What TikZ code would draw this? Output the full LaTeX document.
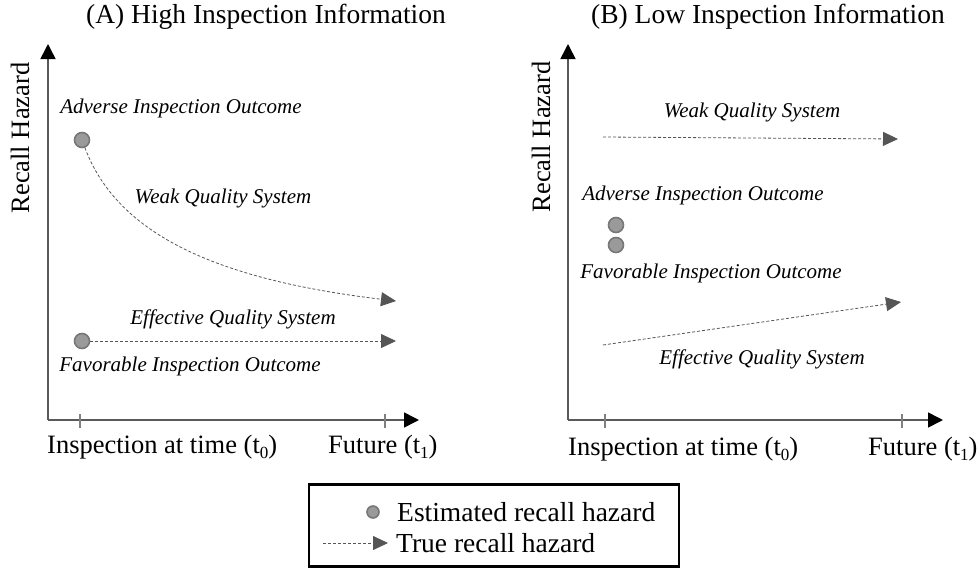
\documentclass[tikz,border=0pt]{standalone}
\usepackage{fontspec}
\setmainfont{Liberation Serif}
\usetikzlibrary{arrows.meta}

\definecolor{axisgray}{HTML}{5A5A5A}
\definecolor{tickgray}{HTML}{808080}
\definecolor{arrowgray}{HTML}{555555}
\definecolor{dotfill}{HTML}{9A9A9A}
\definecolor{dotedge}{HTML}{777777}

% lowered subscript for the time labels
\newcommand{\timesub}[1]{\raisebox{-0.45ex}{\fontsize{17}{17}\selectfont #1}}

\tikzset{
  axisline/.style={draw=axisgray, line width=1.6pt,
    -{Triangle[length=15pt,width=15pt,color=black]}},
  tickmark/.style={draw=tickgray, line width=2pt},
  trueh/.style={draw=arrowgray, line width=0.8pt, dash pattern=on 3pt off 2pt,
    -{Triangle[length=15pt,width=14pt,color=arrowgray]}},
  dot/.style={circle, fill=dotfill, draw=dotedge, line width=1.6pt,
    minimum size=15pt, inner sep=0pt},
  legdot/.style={circle, fill=dotfill, draw=dotedge, line width=1.6pt,
    minimum size=12pt, inner sep=0pt},
  titletext/.style={inner sep=0pt, font=\fontsize{27.5}{30}\selectfont},
  axtext/.style={inner sep=0pt, font=\fontsize{26.5}{30}\selectfont},
  outcome/.style={inner sep=0pt, font=\fontsize{21}{24}\selectfont\itshape},
  legendbox/.style={draw=black, line width=2.5pt, rectangle, inner sep=0pt},
  legtext/.style={inner sep=0pt, anchor=west, font=\fontsize{27.5}{30}\selectfont}
}

\begin{document}
\begin{tikzpicture}[x=1pt, y=-1pt]
\useasboundingbox (0,0) rectangle (980,568);

% ---------- Panel A: high inspection information ----------
\node[titletext] (titleA) at (266,17) {(A) High Inspection Information};

\coordinate (oA) at (48,420);
\coordinate (yA) at (48,44);
\coordinate (xA) at (419,420);
\draw[axisline] (oA) -- (yA);
\draw[axisline] (oA) -- (xA);
\coordinate (t0A) at (80,420);
\coordinate (t1A) at (385,420);
\draw[tickmark] ([yshift=-8pt]t0A) -- ([yshift=6pt]t0A);
\draw[tickmark] ([yshift=-8pt]t1A) -- ([yshift=6pt]t1A);

\node[axtext, rotate=90] (hazA) at (20,138) {Recall Hazard};
\node[axtext, anchor=base west] (nowA) at (47,453) {Inspection at time (t\timesub{0})};
\node[axtext, anchor=base west] (futA) at (328,453) {Future (t\timesub{1})};

\node[dot] (advA) at (82,140) {};
\node[dot] (favA) at (82,341) {};
\coordinate (weakEndA) at (396,301);
\coordinate (effEndA) at (396,341);
\draw[trueh] (advA) .. controls (118,236) and (220,280) .. (weakEndA);
\draw[trueh] (favA) -- (effEndA);

\node[outcome] (advLabA) at (181,108) {Adverse Inspection Outcome};
\node[outcome] (weakLabA) at (223,198) {Weak Quality System};
\node[outcome] (effLabA) at (233,319) {Effective Quality System};
\node[outcome] (favLabA) at (190,366) {Favorable Inspection Outcome};

% ---------- Panel B: low inspection information ----------
\node[titletext] (titleB) at (768,17) {(B) Low Inspection Information};

\coordinate (oB) at (568,420);
\coordinate (yB) at (568,44);
\coordinate (xB) at (943,420);
\draw[axisline] (oB) -- (yB);
\draw[axisline] (oB) -- (xB);
\coordinate (t0B) at (605,420);
\coordinate (t1B) at (902,420);
\draw[tickmark] ([yshift=-8pt]t0B) -- ([yshift=6pt]t0B);
\draw[tickmark] ([yshift=-8pt]t1B) -- ([yshift=6pt]t1B);

\node[axtext, rotate=90] (hazB) at (541,137) {Recall Hazard};
\node[axtext, anchor=base west] (nowB) at (568,455) {Inspection at time (t\timesub{0})};
\node[axtext, anchor=base west] (futB) at (868,455) {Future (t\timesub{1})};

\coordinate (weakStartB) at (603,137);
\coordinate (weakEndB) at (898,139);
\coordinate (effStartB) at (603,345);
\coordinate (effEndB) at (901,302);
\draw[trueh] (weakStartB) -- (weakEndB);
\draw[trueh] (effStartB) -- (effEndB);

\node[dot] (advB) at (616,225) {};
\node[dot] (favB) at (616,245) {};

\node[outcome] (weakLabB) at (752,112) {Weak Quality System};
\node[outcome] (advLabB) at (703,195) {Adverse Inspection Outcome};
\node[outcome] (favLabB) at (711,273) {Favorable Inspection Outcome};
\node[outcome] (effLabB) at (762,359) {Effective Quality System};

% ---------- Legend ----------
\node[legendbox, minimum width=370pt, minimum height=82pt] (legend) at (494,525.5) {};
\node[legdot] (legDot) at (373,512) {};
\node[legtext] (legEst) at (397,512) {Estimated recall hazard};
\coordinate (legArrStart) at (323,543);
\coordinate (legArrEnd) at (388,543);
\draw[trueh] (legArrStart) -- (legArrEnd);
\node[legtext] (legTrue) at (396,543) {True recall hazard};
\end{tikzpicture}
\end{document}
